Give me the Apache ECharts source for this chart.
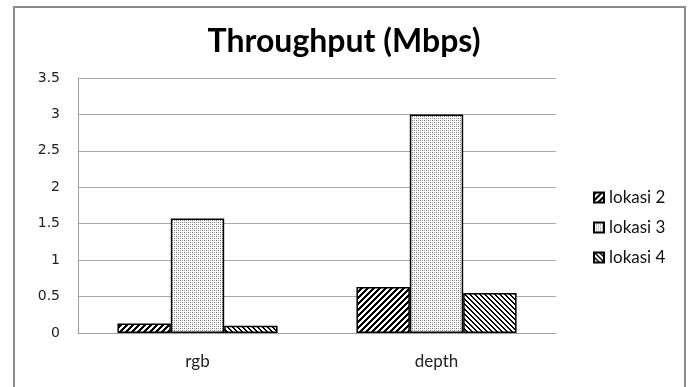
<!DOCTYPE html>
<html>
<head>
<meta charset="utf-8">
<script src="https://cdn.jsdelivr.net/npm/echarts@6/dist/echarts.min.js"></script>
<style>
  html, body { margin: 0; padding: 0; background: #fff; }
  #frame { position: absolute; left: 13px; top: 6px; width: 669px; height: 400px;
           border-left: 2px solid #8c8c8c; border-top: 2px solid #8c8c8c; border-right: 2px solid #8c8c8c; }
  #chart { position: absolute; left: 0; top: 0; width: 688px; height: 387px; }
</style>
</head>
<body>
<div id="frame"></div>
<div id="chart"></div>
<script>
const categories = ['rgb', 'depth'];
const seriesNames = ['lokasi 2', 'lokasi 3', 'lokasi 4'];
const lokasi2 = [0.13, 0.63];
const lokasi3 = [1.57, 3.0];
const lokasi4 = [0.10, 0.55];
const yTicks = [0, 0.5, 1, 1.5, 2, 2.5, 3, 3.5];

// Build small tile canvases used as fill patterns for the bars
function tile(size, painter) {
  const c = document.createElement('canvas');
  c.width = size; c.height = size;
  const ctx = c.getContext('2d');
  ctx.fillStyle = '#fff';
  ctx.fillRect(0, 0, size, size);
  painter(ctx, size);
  return c;
}
function stripes(period, width, forward) {
  return tile(period, (ctx, n) => {
    ctx.fillStyle = '#000';
    for (let x = 0; x < n; x++) {
      for (let y = 0; y < n; y++) {
        const k = forward ? (x + y) : (x - y + n * 4);
        if (k % period < width) ctx.fillRect(x, y, 1, 1);
      }
    }
  });
}
const dots = tile(4, (ctx) => {
  ctx.fillStyle = '#6e6e6e';
  ctx.fillRect(0, 0, 1, 1);
  ctx.fillRect(2, 2, 1, 1);
  ctx.fillStyle = '#a0a0a0';
  ctx.fillRect(2, 0, 1, 1);
  ctx.fillRect(0, 2, 1, 1);
});
const fills = [
  { image: stripes(6, 3, true), repeat: 'repeat' },
  { image: dots, repeat: 'repeat' },
  { image: stripes(5, 2, false), repeat: 'repeat' }
];

const chart = echarts.init(document.getElementById('chart'), null, { renderer: 'canvas' });
const values = [lokasi2, lokasi3, lokasi4];

chart.setOption({
  animation: false,
  title: {
    text: 'Throughput (Mbps)',
    left: 'center',
    top: 26,
    textStyle: { fontFamily: 'Lato', fontWeight: 'bold', fontSize: 32, color: '#000' },
    padding: [0, 0, 0, 0],
    itemGap: 0
  },
  legend: {
    orient: 'vertical',
    left: 588,
    top: 184,
    itemWidth: 10,
    itemHeight: 10,
    itemGap: 13,
    icon: 'rect',
    textStyle: { fontFamily: 'Lato', fontSize: 17, color: '#111' },
    data: seriesNames
  },
  grid: { left: 78, right: 132, top: 78, bottom: 54, containLabel: false },
  xAxis: {
    type: 'category',
    data: categories,
    axisLine: { show: true, lineStyle: { color: '#a0a0a0', width: 1 } },
    axisTick: { show: false },
    axisLabel: { fontFamily: 'Lato', fontSize: 17, color: '#222', margin: 20 }
  },
  yAxis: {
    type: 'value',
    min: yTicks[0],
    max: yTicks[yTicks.length - 1],
    interval: 0.5,
    axisLine: { show: true, lineStyle: { color: '#a0a0a0', width: 1 } },
    axisTick: { show: false },
    splitLine: { show: true, lineStyle: { color: '#a8a8a8', width: 1 } },
    axisLabel: { fontFamily: 'DejaVu Sans', fontSize: 14, color: '#222', margin: 18 }
  },
  series: seriesNames.map((name, i) => ({
    name: name,
    type: 'bar',
    data: values[i],
    barGap: '0%',
    barCategoryGap: '33%',
    itemStyle: { color: fills[i], borderColor: '#000', borderWidth: 1.5 }
  }))
});
</script>
</body>
</html>
